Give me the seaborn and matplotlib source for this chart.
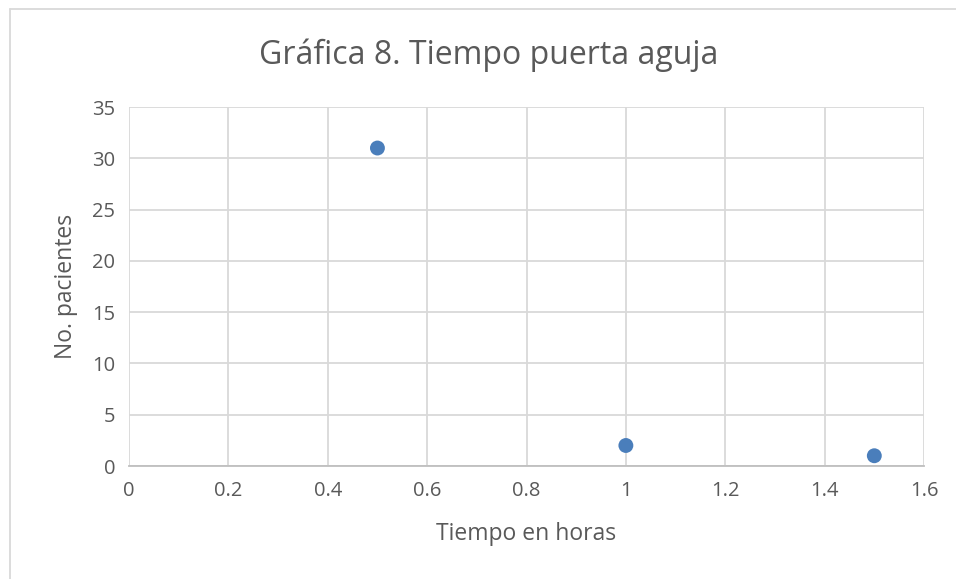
import matplotlib
matplotlib.use("Agg")
import matplotlib.pyplot as plt
import seaborn as sns
import pandas as pd
from matplotlib.lines import Line2D

# datos
horas = [0.5, 1.0, 1.5]
pacientes = [31, 2, 1]
x_ticks = [0, 0.2, 0.4, 0.6, 0.8, 1, 1.2, 1.4, 1.6]
x_tick_labels = ["0", "0.2", "0.4", "0.6", "0.8", "1", "1.2", "1.4", "1.6"]
y_ticks = [0, 5, 10, 15, 20, 25, 30, 35]

df = pd.DataFrame({"Tiempo": horas, "Pacientes": pacientes})

sns.set_style("white")
plt.rcParams["font.family"] = ["Open Sans", "DejaVu Sans"]

fig = plt.figure(figsize=(9.56, 5.79), dpi=100)
ax = fig.add_axes([129 / 956, 1 - 466 / 579, (924 - 129) / 956, (466 - 107) / 579])

sns.scatterplot(data=df, x="Tiempo", y="Pacientes", ax=ax, color="#4a7ebb",
                s=115, edgecolor="none", zorder=3, clip_on=False)

ax.set_xlim(0, 1.6)
ax.set_ylim(0, 35)
ax.set_xticks(x_ticks)
ax.set_xticklabels(x_tick_labels)
ax.set_yticks(y_ticks)
ax.grid(True, color="#d9d9d9", linewidth=1.3)
for side in ["top", "right", "left"]:
    ax.spines[side].set_visible(False)
ax.spines["bottom"].set_color("#bfbfbf")
ax.spines["bottom"].set_linewidth(1.3)
ax.tick_params(axis="both", length=0, labelsize=14.5, colors="#595959")
ax.tick_params(axis="x", pad=11)
ax.tick_params(axis="y", pad=10)

ax.set_xlabel("Tiempo en horas", fontsize=16.5, color="#595959", labelpad=15)
ax.set_ylabel("No. pacientes", fontsize=16.5, color="#595959", labelpad=10)
fig.text(0.511, 1 - 55 / 579, "Gráfica 8. Tiempo puerta aguja", ha="center", va="center",
         fontsize=23, color="#595959")

# borde del área del gráfico (solo izquierda y arriba visibles)
top = 1 - 8.5 / 579
left = 9.5 / 956
fig.add_artist(Line2D([left, left], [0, top], transform=fig.transFigure,
                      color="#d9d9d9", linewidth=1.3))
fig.add_artist(Line2D([left, 1], [top, top], transform=fig.transFigure,
                      color="#d9d9d9", linewidth=1.3))

fig.savefig("out.png", dpi=100)
